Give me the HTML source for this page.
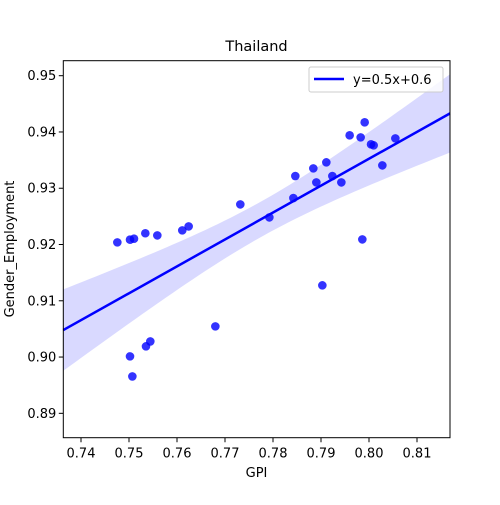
<!DOCTYPE html>
<html><head><meta charset="utf-8"><style>
body{margin:0;background:#fff;}
svg text{font-family:"DejaVu Sans","Liberation Sans",sans-serif;fill:#000;}
</style></head><body>
<svg id="chart" width="500" height="500" xmlns="http://www.w3.org/2000/svg">
<rect width="500" height="500" fill="#fff"/>
<text x="256.5" y="51" font-size="14.5" text-anchor="middle">Thailand</text>
<g id="band"></g>
<g id="ticks"></g>
<g id="points"></g>
<g id="line"></g>
<rect x="63.3" y="60.7" width="386.7" height="377" fill="none" stroke="#000" stroke-width="1"/>
<text x="256.5" y="477" font-size="13" text-anchor="middle">GPI</text>
<text x="0" y="0" font-size="13" text-anchor="middle" transform="translate(14,249) rotate(-90)">Gender_Employment</text>
<g>
<rect x="309" y="67" width="134" height="25" rx="2" fill="#fff" fill-opacity="0.8" stroke="#ccc"/>
<line x1="314" y1="79" x2="344" y2="79" stroke="#0000ff" stroke-width="2.5"/>
<text x="353" y="84" font-size="13">y=0.5x+0.6</text>
</g>
</svg>
<script>
const gpi=[.74757,.75021,.75104,.7534,.7559,.7611,.76243,.77319,.77924,.78424,.78465,.7884,.78903,.79111,.79236,.79424,.79597,.79826,.7991,.80042,.80097,.80278,.80549,.79861,.79028,.76799,.75444,.75354,.75021,.7507];
const emp=[.92038,.92085,.92103,.9220,.92162,.92251,.92322,.92713,.92482,.92826,.93217,.93353,.93104,.9346,.93217,.93104,.9394,.93904,.94171,.9378,.93762,.93406,.93886,.92091,.91274,.90545,.90278,.9019,.90012,.89656];
const xTicks=[0.74,0.75,0.76,0.77,0.78,0.79,0.80,0.81];
const xTickLabels=["0.74","0.75","0.76","0.77","0.78","0.79","0.80","0.81"];
const yTicks=[0.89,0.90,0.91,0.92,0.93,0.94,0.95];
const yTickLabels=["0.89","0.90","0.91","0.92","0.93","0.94","0.95"];
const NS="http://www.w3.org/2000/svg";
const X0=63.3,X1=450,Y0=60.7,Y1=437.7;
const xmin=0.73631,xmax=0.81688;
const sx=v=>81+(v-0.74)*4800;
const sy=v=>75.7+(0.95-v)*5627;
function mk(t,a,p){const e=document.createElementNS(NS,t);for(const k in a)e.setAttribute(k,a[k]);p.appendChild(e);return e;}
const tk=document.getElementById('ticks');
xTicks.forEach((v,i)=>{
 const l=mk('line',{x1:sx(v),x2:sx(v),y1:Y1,y2:Y1+4.5,stroke:'#000'},tk);
 
 
 const t=mk('text',{x:sx(v),y:Y1+20,'font-size':'13','text-anchor':'middle'},tk);t.textContent=xTickLabels[i];
 
 
});
yTicks.forEach((v,i)=>{
 const l=mk('line',{x1:X0-4.5,x2:X0,y1:sy(v),y2:sy(v),stroke:'#000'},tk);
 
 
 const t=mk('text',{x:X0-7,y:sy(v)+4.5,'font-size':'13','text-anchor':'end'},tk);t.textContent=yTickLabels[i];
 
 
});
// regression
const n=gpi.length;const mx=gpi.reduce((a,b)=>a+b)/n,my=emp.reduce((a,b)=>a+b)/n;
let sxx=0,sxy=0;for(let i=0;i<n;i++){sxx+=(gpi[i]-mx)**2;sxy+=(gpi[i]-mx)*(emp[i]-my);}
const b=sxy/sxx,a=my-b*mx;let sse=0;for(let i=0;i<n;i++)sse+=(emp[i]-a-b*gpi[i])**2;
const s=Math.sqrt(sse/(n-2)),tq=2.048;
const up=[],lo=[];
for(let k=0;k<=60;k++){const x=xmin+(xmax-xmin)*k/60;const yh=a+b*x;const se=s*Math.sqrt(1/n+(x-mx)**2/sxx)*tq;up.push(sx(x)+','+sy(yh+se));lo.unshift(sx(x)+','+sy(yh-se));}
const bd=mk('polygon',{points:up.concat(lo).join(' '),fill:'#0000ff','fill-opacity':'0.15'},document.getElementById('band'));


const pg=document.getElementById('points');
for(let i=0;i<n;i++){const c=mk('circle',{cx:sx(gpi[i]),cy:sy(emp[i]),r:4.3,fill:'#0000ff','fill-opacity':'0.8'},pg);
 
 }
const rl=mk('line',{x1:sx(xmin),y1:sy(a+b*xmin),x2:sx(xmax),y2:sy(a+b*xmax),stroke:'#0000ff','stroke-width':'2.5'},document.getElementById('line'));


</script>
</body></html>
